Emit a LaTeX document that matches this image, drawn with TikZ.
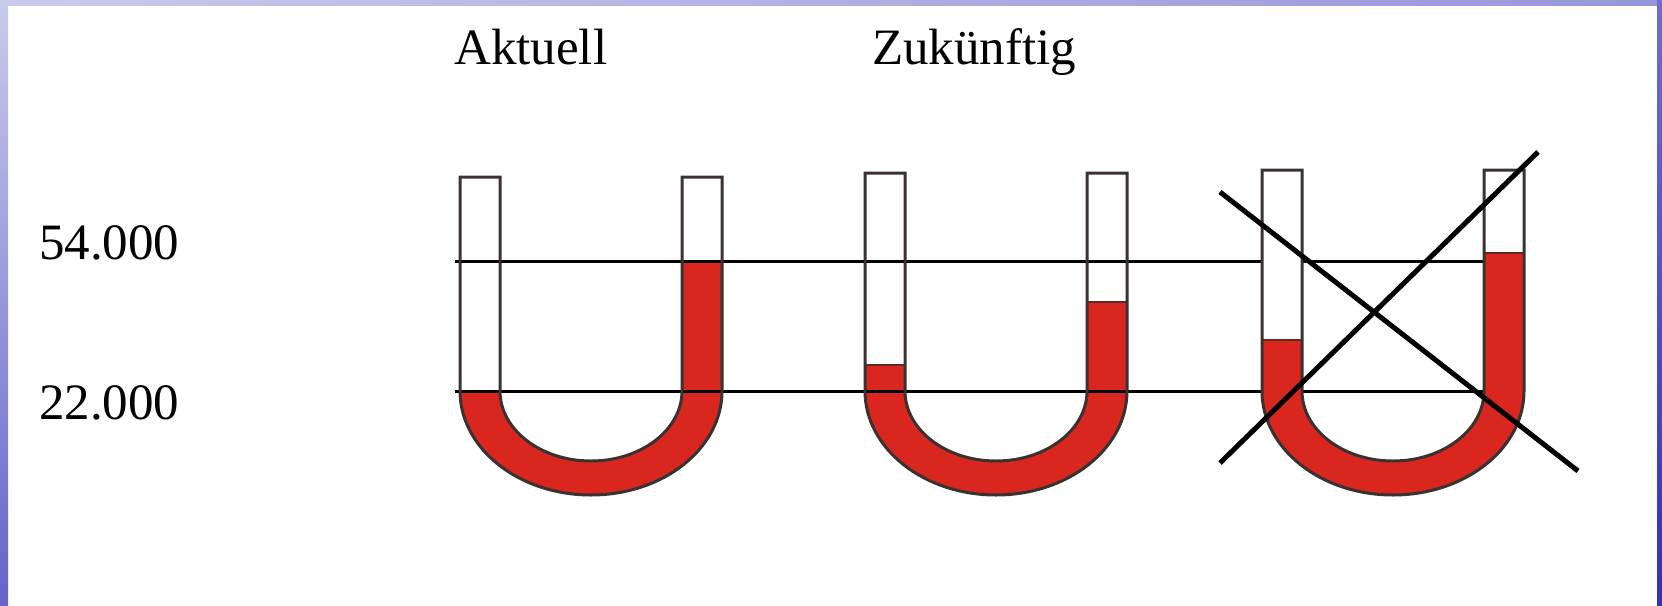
\documentclass[tikz,border=0pt]{standalone}
\usepackage{fontspec}
\setmainfont{Liberation Serif}
\definecolor{ured}{RGB}{217,38,30}
\definecolor{uline}{RGB}{58,50,48}
\definecolor{umen}{RGB}{95,40,36}
\definecolor{bordA}{RGB}{202,202,236}
\definecolor{bordB}{RGB}{100,100,200}
\definecolor{bordC}{RGB}{150,150,220}
\definecolor{bordD}{RGB}{110,110,205}
\definecolor{bordE}{RGB}{50,50,180}
\tikzset{
  tubeline/.style={draw=uline,line width=3pt,line join=miter},
  levelline/.style={draw=black,line width=3pt},
  crossline/.style={draw=black,line width=5pt},
  meniscus/.style={draw=umen,line width=2pt},
  lbl/.style={inner sep=0pt,anchor=base west,font=\fontsize{51}{60}\selectfont}
}
% fill of liquid: cx, left level, right level
\newcommand{\UFill}[3]{%
  \fill[ured] (#1-131,#2) -- (#1-131,391)
    arc[start angle=180,end angle=360,x radius=131pt,y radius=104pt]
    -- (#1+131,#3) -- (#1+91,#3) -- (#1+91,391)
    arc[start angle=0,end angle=-180,x radius=91pt,y radius=70pt]
    -- (#1-91,#2) -- cycle;}
\newcommand{\UPath}[2]{%
  (#1-131,391) -- (#1-131,#2) -- (#1-91,#2) -- (#1-91,391)
    arc[start angle=180,end angle=360,x radius=91pt,y radius=70pt]
    -- (#1+91,#2) -- (#1+131,#2) -- (#1+131,391)
    arc[start angle=0,end angle=-180,x radius=131pt,y radius=104pt] -- cycle}
\begin{document}
\begin{tikzpicture}[x=1pt,y=-1pt]
\useasboundingbox (0,0) rectangle (1662,605);
\fill[white] (0,0) rectangle (1662,605);
% borders
\shade[top color=bordA,bottom color=bordB] (0,0) rectangle (8,605);
\shade[left color=bordA,right color=bordC] (0,0) rectangle (1662,5);
\shade[top color=bordD,bottom color=bordE] (1657,0) rectangle (1662,605);
% labels
\node[lbl] (aktuell) at (454,64) {Aktuell};
\node[lbl] (zuk) at (872,64) {Zukünftig};
\node[lbl] (v54) at (39,259) {54.000};
\node[lbl] (v22) at (39,419) {22.000};
% U1 and U2 liquid
\UFill{591}{391}{261}
\UFill{996}{365}{302}
\draw[meniscus] (996-131,365) -- (996-91,365);
\draw[meniscus] (996+91,302) -- (996+131,302);
% level lines
\coordinate (l54a) at (455,261);
\coordinate (l54b) at (1485,261);
\coordinate (l22a) at (455,391);
\coordinate (l22b) at (1484,391);
\draw[levelline] (l54a) -- (l54b);
\draw[levelline] (l22a) -- (l22b);
% outlines U1, U2
\draw[tubeline] \UPath{591}{177};
\draw[tubeline] \UPath{996}{173};
% U3 (on top of the lines)
\fill[white] \UPath{1393}{170};
\UFill{1393}{340}{253}
\draw[meniscus] (1393-131,340) -- (1393-91,340);
\draw[meniscus] (1393+91,253) -- (1393+131,253);
\draw[tubeline] \UPath{1393}{170};
% cross
\coordinate (c1a) at (1220,192);
\coordinate (c1b) at (1578,471);
\coordinate (c2a) at (1220,463);
\coordinate (c2b) at (1538,152);
\draw[crossline] (c1a) -- (c1b);
\draw[crossline] (c2a) -- (c2b);
\end{tikzpicture}
\end{document}
